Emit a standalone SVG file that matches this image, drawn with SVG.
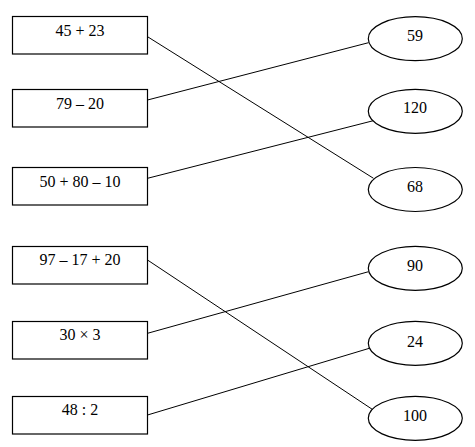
<svg xmlns="http://www.w3.org/2000/svg" width="475" height="447" viewBox="0 0 475 447">
<style>
.box{fill:#fff;stroke:#000;stroke-width:1.2}
.ov{fill:#fff;stroke:#000;stroke-width:1.2}
.t{font-family:"Liberation Serif","Times New Roman",serif;font-size:16px;fill:#000;text-anchor:middle}
.c{stroke:#000;stroke-width:1;fill:none}
</style>
<rect width="475" height="447" fill="#fff"/>
<g id="connectors">
<line class="c" x1="147.5" y1="36.7" x2="373.5" y2="178.3"/>
<line class="c" x1="147.5" y1="100" x2="368.5" y2="42.7"/>
<line class="c" x1="147.5" y1="178.3" x2="373.3" y2="120.7"/>
<line class="c" x1="147.5" y1="260" x2="373.3" y2="410"/>
<line class="c" x1="147.5" y1="333.3" x2="368.5" y2="271.7"/>
<line class="c" x1="147.5" y1="415" x2="369.3" y2="348.3"/>
</g>
<g id="b1"><rect class="box" x="12.5" y="16.5" width="135" height="37.5"/><text class="t" x="80" y="35.5">45 + 23</text></g>
<g id="b2"><rect class="box" x="12.5" y="89.5" width="135" height="37.5"/><text class="t" x="80" y="108.5">79 – 20</text></g>
<g id="b3"><rect class="box" x="12.5" y="167.5" width="135" height="37.5"/><text class="t" x="80" y="186.5">50 + 80 – 10</text></g>
<g id="b4"><rect class="box" x="12.5" y="246.5" width="135" height="37.5"/><text class="t" x="80" y="265">97 – 17 + 20</text></g>
<g id="b5"><rect class="box" x="12.5" y="321.5" width="135" height="37.5"/><text class="t" x="80" y="340">30 × 3</text></g>
<g id="b6"><rect class="box" x="12.5" y="396.5" width="135" height="37.5"/><text class="t" x="80" y="415">48 : 2</text></g>
<g id="e1"><ellipse class="ov" cx="415.3" cy="38.7" rx="47" ry="22"/><text class="t" x="415" y="40.7">59</text></g>
<g id="e2"><ellipse class="ov" cx="415.3" cy="111.3" rx="47" ry="22"/><text class="t" x="415" y="113.3">120</text></g>
<g id="e3"><ellipse class="ov" cx="415.3" cy="189.5" rx="47" ry="22"/><text class="t" x="415" y="192.3">68</text></g>
<g id="e4"><ellipse class="ov" cx="415.3" cy="268.3" rx="47" ry="22"/><text class="t" x="415" y="271">90</text></g>
<g id="e5"><ellipse class="ov" cx="415.3" cy="343.3" rx="47" ry="22"/><text class="t" x="415" y="346.7">24</text></g>
<g id="e6"><ellipse class="ov" cx="415.3" cy="418.3" rx="47" ry="22"/><text class="t" x="415" y="420.7">100</text></g>
</svg>
